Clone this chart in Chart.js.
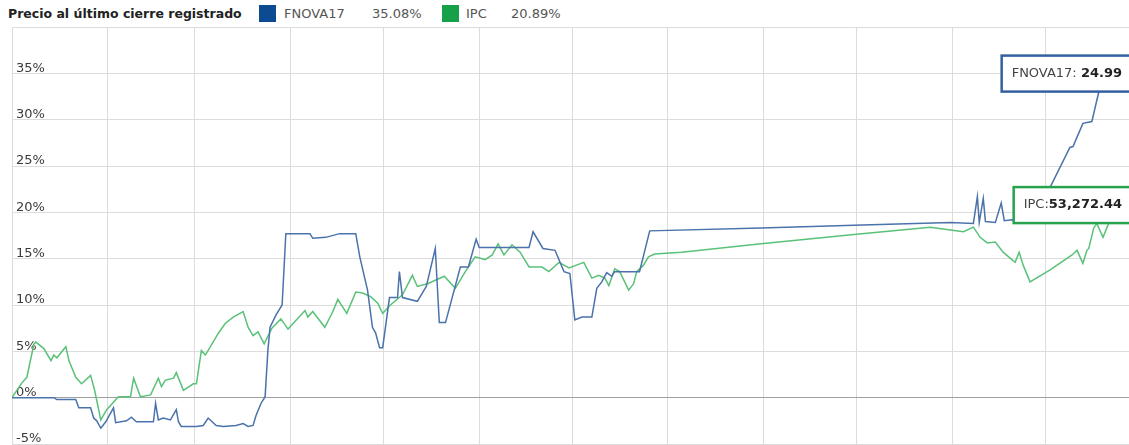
<!DOCTYPE html>
<html>
<head>
<meta charset="utf-8">
<script src="https://cdn.jsdelivr.net/npm/chart.js@4"></script>
<style>
  body { margin: 0; background: #fff; width: 1129px; height: 445px; overflow: hidden; position: relative; font-family: "DejaVu Sans", Verdana, sans-serif; }
  #legend { position: absolute; left: 0; top: 0; width: 1129px; height: 25px; }
  #legend span { position: absolute; top: 6px; font-size: 13px; line-height: 16px; color: #555; white-space: nowrap; }
  #legend .title { font-weight: bold; font-size: 12.5px; color: #222; }
  #legend .box { width: 17px; height: 17px; top: 5px; }
  #wrap { position: absolute; left: 0; top: 25px; }
</style>
</head>
<body>
<div id="legend"></div>
<div id="wrap"><canvas id="chart" width="1129" height="420"></canvas></div>
<script>
// series: day of year (0 = 1 Jan) and % change since start
const fnovaDays = [0, 13.5, 14.5, 20.6, 21.6, 25.4, 26.4, 27.4, 28.7, 30.3, 32.8, 33.5, 37.0, 38.6, 40.2, 45.7, 46.4, 47.3, 48.9, 51.2,
  53.1, 53.8, 54.7, 59.6, 61.8, 63.4, 66.0, 68.3, 72.4, 74.7, 76.3, 77.9, 78.9, 80.5, 81.8, 82.7, 83.4, 85.3, 87.3, 88.5,
  96.3, 97.2, 101.4, 105.9, 111.1, 112.4, 114.9, 116.5, 117.5, 118.8, 119.8, 122.0, 124.6, 125.2, 126.2, 131.0, 133.9, 136.8, 138.1, 140.1,
  144.9, 147.5, 150.0, 151.0, 167.1, 168.4, 171.6, 175.5, 178.4, 180.3, 181.9, 184.2, 187.4, 189.0, 190.6, 192.2, 193.8, 194.8, 202.8, 206.1,
  242.1, 272.1, 303.3, 310.7, 312.0, 312.6, 313.9, 314.6, 317.8, 319.7, 320.7, 323.2, 327.4, 335.5, 341.9, 342.9, 346.1, 349.0, 350.6, 352.2, 357.4];
const fnovaValues = [0, 0, -0.2, -0.2, -1.1, -1.1, -2.2, -2.5, -3.3, -2.6, -1.1, -2.7, -2.5, -2.1, -2.6, -2.6, -0.6, -2.4, -2.2, -2.4,
  -1.3, -2.6, -3.1, -3.1, -3.0, -2.2, -3.0, -3.1, -3.0, -2.8, -3.1, -3.0, -1.9, -0.6, 0.1, 5.1, 7.6, 8.9, 10.0, 17.7,
  17.7, 17.2, 17.3, 17.7, 17.7, 15.2, 11.6, 7.6, 7.0, 5.4, 5.4, 10.8, 10.8, 13.6, 10.8, 10.4, 12.0, 16.1, 8.1, 8.1,
  14.1, 14.1, 17.1, 16.2, 16.2, 17.9, 16.1, 15.9, 13.6, 13.4, 8.4, 8.7, 8.7, 11.8, 12.5, 13.5, 13.1, 13.6, 13.6, 18.0,
  18.3, 18.6, 18.9, 18.8, 21.7, 18.9, 21.5, 19.0, 18.9, 21.0, 19.1, 19.2, 19.0, 22.7, 27.0, 27.1, 29.6, 29.8, 32.1, 34.3, 35.08];

const ipcDays = [0, 3.2, 4.8, 7.1, 7.7, 10.3, 12.6, 13.5, 14.5, 17.4, 18.4, 20.6, 22.5, 25.4, 26.7, 28.7, 30.6, 34.4, 38.3, 39.3,
  41.5, 44.8, 47.3, 48.3, 49.6, 52.2, 53.1, 55.4, 58.6, 59.6, 61.2, 62.5, 66.6, 68.9, 71.5, 74.7, 76.3, 77.9, 79.5, 81.5,
  84.0, 86.9, 89.2, 94.7, 95.6, 97.2, 101.1, 103.7, 105.3, 108.2, 111.1, 113.3, 115.9, 118.2, 119.8, 122.3, 126.2, 129.4, 131.0, 134.3,
  139.7, 143.3, 146.5, 149.7, 152.9, 155.2, 157.1, 159.0, 161.6, 164.2, 167.1, 171.3, 173.5, 176.8, 180.0, 184.8, 187.4, 189.6, 191.6, 192.9,
  194.8, 196.4, 199.3, 200.9, 201.9, 204.1, 205.7, 207.7, 216.4, 242.1, 272.1, 296.8, 303.3, 307.5, 310.7, 312.9, 315.2, 317.8, 320.3, 324.2,
  325.5, 326.8, 329.0, 335.5, 342.6, 344.2, 346.1, 347.4, 348.0, 349.6, 350.6, 352.6, 354.8, 357.4];
const ipcValues = [0, 1.6, 2.2, 5.8, 6.0, 5.3, 4.0, 4.6, 4.3, 5.5, 4.0, 2.2, 1.5, 2.4, 0.8, -2.4, -1.3, 0.1, 0.1, 2.1,
  0.1, 0.3, 2.1, 1.2, 1.9, 2.1, 2.7, 0.8, 1.5, 1.5, 5.1, 4.6, 6.9, 8.0, 8.7, 9.3, 7.6, 6.7, 7.1, 5.8,
  7.5, 8.5, 7.4, 9.4, 8.7, 9.3, 7.6, 9.3, 10.6, 9.1, 11.4, 11.3, 10.9, 10.2, 9.1, 10.0, 11.1, 13.2, 12.0, 12.3,
  13.1, 11.8, 13.6, 15.2, 14.9, 15.4, 16.6, 15.4, 16.5, 15.7, 14.1, 14.1, 13.6, 14.6, 14.0, 14.6, 12.9, 13.2, 12.9, 12.1,
  13.9, 13.6, 11.6, 12.3, 13.6, 14.3, 15.2, 15.5, 15.7, 16.6, 17.6, 18.4, 18.1, 17.9, 18.4, 17.3, 16.7, 16.8, 15.7, 14.6,
  15.7, 14.3, 12.5, 13.8, 15.4, 15.9, 14.5, 15.9, 16.1, 18.3, 18.8, 17.3, 19.1, 20.89];

// month starts, used as vertical grid lines
const monthStarts = [0, 31, 59, 90, 120, 151, 181, 212, 243, 273, 304, 334];

const seriesNames = ['FNOVA17', 'IPC'];
const seriesChanges = ['35.08%', '20.89%'];
const boxLabels = ['FNOVA17: ', 'IPC:'];
const lastPrices = ['24.99', '53,272.44'];
const legendTitle = 'Precio al último cierre registrado';

const lineColors = ['#4a72ab', '#5ac179'];
const swatchColors = ['#0c4a91', '#17a04a'];
const boxBorders = ['#3460a0', '#28a24c'];

// legend strip
const legend = document.getElementById('legend');
const legendSpots = [
  { box: 259, name: 284, change: 372 },
  { box: 442, name: 466, change: 511 }
];
legend.innerHTML = '<span class="title" style="left:8px">' + legendTitle + '</span>' +
  seriesNames.map((n, i) =>
    '<span class="box" style="left:' + legendSpots[i].box + 'px;background:' + swatchColors[i] + '"></span>' +
    '<span style="left:' + legendSpots[i].name + 'px">' + n + '</span>' +
    '<span style="left:' + legendSpots[i].change + 'px">' + seriesChanges[i] + '</span>'
  ).join('');

// last price boxes at the end of each line
const lastPriceBoxes = {
  id: 'lastPriceBoxes',
  afterDatasetsDraw(chart) {
    const ctx = chart.ctx;
    const area = chart.chartArea;
    ctx.save();
    chart.data.datasets.forEach((ds, i) => {
      const pts = chart.getDatasetMeta(i).data;
      const last = pts[pts.length - 1];
      ctx.font = '13px "DejaVu Sans"';
      const w1 = ctx.measureText(boxLabels[i]).width;
      ctx.font = 'bold 13px "DejaVu Sans"';
      const w2 = ctx.measureText(lastPrices[i]).width;
      const w = w1 + w2 + 21;
      const h = 36;
      const right = area.right + 4;
      const x = right - w;
      const y = last.y - h / 2 + 1;
      ctx.fillStyle = '#fff';
      ctx.fillRect(x, y, w, h);
      ctx.lineWidth = 2.5;
      ctx.strokeStyle = boxBorders[i];
      ctx.strokeRect(x, y, w, h);
      ctx.textBaseline = 'middle';
      ctx.fillStyle = '#444';
      ctx.font = '13px "DejaVu Sans"';
      ctx.fillText(boxLabels[i], x + 10, last.y + 1);
      ctx.fillStyle = '#222';
      ctx.font = 'bold 13px "DejaVu Sans"';
      ctx.fillText(lastPrices[i], x + 10 + w1, last.y + 1);
    });
    ctx.restore();
  }
};

new Chart(document.getElementById('chart'), {
  type: 'line',
  data: {
    datasets: [
      {
        label: seriesNames[0],
        data: fnovaDays.map((d, i) => ({ x: d, y: fnovaValues[i] })),
        borderColor: lineColors[0],
        borderWidth: 1.5,
        pointRadius: 0,
        tension: 0
      },
      {
        label: seriesNames[1],
        data: ipcDays.map((d, i) => ({ x: d, y: ipcValues[i] })),
        borderColor: lineColors[1],
        borderWidth: 1.5,
        pointRadius: 0,
        tension: 0
      }
    ]
  },
  options: {
    responsive: false,
    animation: false,
    layout: { padding: { left: 4, top: 2, right: 0, bottom: 1 } },
    plugins: { legend: { display: false }, tooltip: { enabled: false } },
    scales: {
      x: {
        type: 'linear',
        min: 0,
        max: 361,
        afterBuildTicks: (scale) => { scale.ticks = monthStarts.map(v => ({ value: v })); },
        ticks: { display: false },
        grid: { color: '#dcdcdc', drawTicks: false },
        border: { display: false }
      },
      y: {
        min: -5,
        max: 40,
        afterFit: (scale) => { scale.paddingTop = 0; scale.paddingBottom = 0; },
        ticks: {
          stepSize: 5,
          mirror: true,
          padding: 4,
          labelOffset: -5,
          color: '#3a3a3a',
          font: { family: 'DejaVu Sans', size: 13 },
          callback: (v) => v === 40 ? '' : v + '%'
        },
        grid: {
          drawTicks: false,
          color: (c) => c.tick && c.tick.value === 0 ? '#a0a0a0' : '#dcdcdc'
        },
        border: { display: false }
      }
    }
  },
  plugins: [lastPriceBoxes]
});
</script>
</body>
</html>
